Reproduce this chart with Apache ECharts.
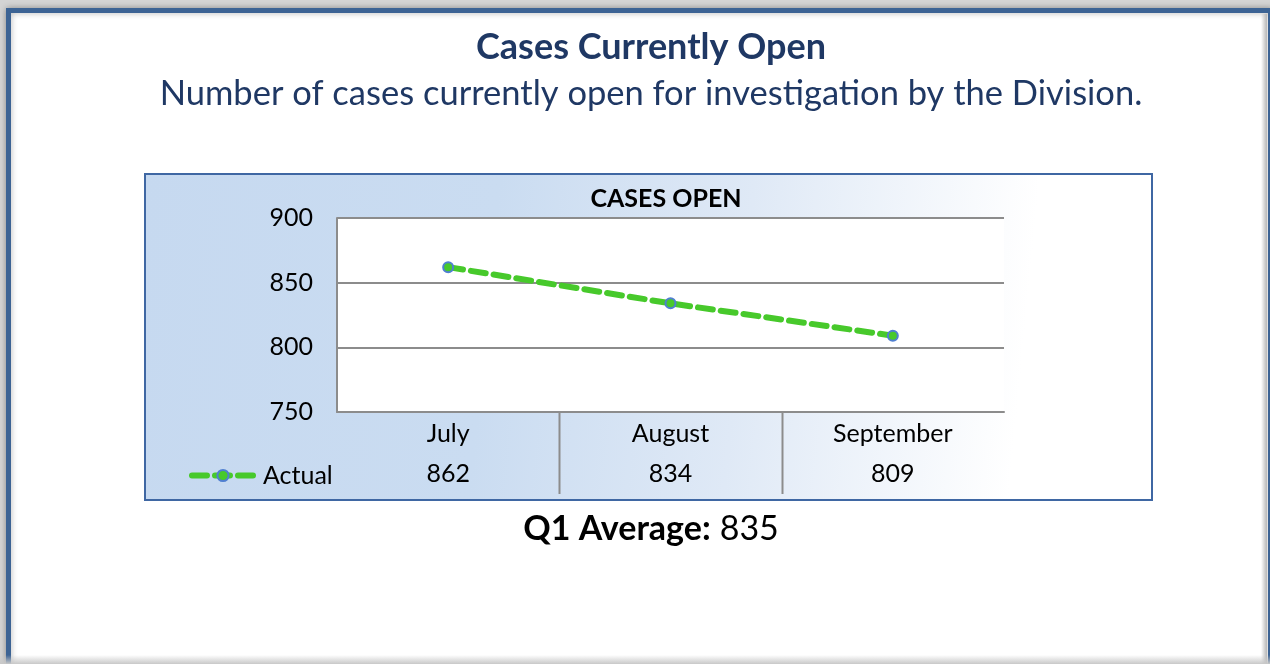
<!DOCTYPE html>
<html>
<head>
<meta charset="utf-8">
<script src="https://cdn.jsdelivr.net/npm/echarts@6/dist/echarts.min.js"></script>
<style>
html,body{margin:0;padding:0;background:#d4d4d4;}
#c{width:1270px;height:664px;}
</style>
</head>
<body>
<div id="c"></div>
<script>
const months = ['July', 'August', 'September'];
const actual = [862, 834, 809];
const yTicks = [750, 800, 850, 900];
const seriesName = 'Actual';
const pageTitle = 'Cases Currently Open';
const pageSubtitle = 'Number of cases currently open for investigation by the Division.';
const chartTitle = 'CASES OPEN';
const avgLabel = 'Q1 Average:';
const avgValue = 835;

const FONT = 'Lato, "Open Sans", sans-serif';
const GREEN = '#47c92b';
const chart = echarts.init(document.getElementById('c'));

const option = {
  animation: false,
  backgroundColor: '#d4d4d4',
  graphic: [
    { type: 'rect', z: -10, shape: { x: 8.5, y: 10.5, width: 1262, height: 720 },
      style: { fill: '#ffffff', stroke: '#3c6394', lineWidth: 5, shadowBlur: 6, shadowColor: 'rgba(0,0,0,0.3)' } },
    { type: 'rect', z: -9, shape: { x: 1261, y: 14, width: 6, height: 650 },
      style: { fill: new echarts.graphic.LinearGradient(0,0,1,0,[{offset:0,color:'rgba(190,190,190,0)'},{offset:1,color:'rgba(185,185,185,1)'}]) } },
    { type: 'rect', z: -9, shape: { x: 0, y: 655, width: 1270, height: 9 },
      style: { fill: new echarts.graphic.LinearGradient(0,0,0,1,[{offset:0,color:'rgba(200,200,200,0)'},{offset:1,color:'rgba(200,200,200,1)'}]) } },
    { type: 'rect', z: -8, shape: { x: 145, y: 174, width: 1007, height: 326 },
      style: { fill: new echarts.graphic.LinearGradient(0,0,1,0.3,[
        {offset:0,color:'#c6d9f0'},{offset:0.35,color:'#cadcf1'},{offset:0.6,color:'#dfe9f6'},{offset:0.88,color:'#ffffff'},{offset:1,color:'#ffffff'}]),
        stroke: '#3f67a3', lineWidth: 2 } },
    { type: 'text', x: 651, y: 47,
      style: { text: pageTitle, font: 'bold 36px ' + FONT, fill: '#1f3864', textAlign: 'center', textVerticalAlign: 'middle' } },
    { type: 'text', x: 651, y: 94,
      style: { text: pageSubtitle, font: '34.5px ' + FONT, fill: '#1f3864', textAlign: 'center', textVerticalAlign: 'middle' } },
    { type: 'text', x: 666, y: 199,
      style: { text: chartTitle, font: 'bold 25px ' + FONT, fill: '#000', textAlign: 'center', textVerticalAlign: 'middle' } },
    { type: 'text', x: 651, y: 529,
      style: { text: '{b|' + avgLabel + '}{n|' + avgValue + '}', textAlign: 'center', textVerticalAlign: 'middle',
        rich: { b: { font: 'bold 34px ' + FONT, fill: '#000' }, n: { font: '34px ' + FONT, fill: '#000', padding: [0, 0, 0, 9] } } } }
  ],
  legend: {
    left: 184, top: 458, itemWidth: 62, itemHeight: 14, itemGap: 0,
    lineStyle: { width: 6 },
    textStyle: { fontFamily: FONT, fontSize: 25, color: '#000', padding: [0, 0, 0, 4] },
    data: [seriesName]
  },
  grid: { left: 337, right: 266, top: 218, bottom: 252, show: true, backgroundColor: '#ffffff', borderWidth: 0 },
  xAxis: {
    type: 'category', data: months, boundaryGap: true,
    axisLine: { lineStyle: { color: '#8c8c8c', width: 2 } },
    axisTick: { show: false },
    axisLabel: {
      margin: 2,
      formatter: function (v, i) { return '{c|' + v + '}\n{v|' + actual[i] + '}'; },
      rich: {
        c: { fontFamily: FONT, fontSize: 25, color: '#000', lineHeight: 40 },
        v: { fontFamily: FONT, fontSize: 25, color: '#000', lineHeight: 40 }
      }
    }
  },
  yAxis: {
    type: 'value', min: yTicks[0], max: yTicks[yTicks.length - 1], interval: 50,
    axisLine: { show: true, lineStyle: { color: '#8c8c8c', width: 2 } },
    axisTick: { show: false },
    axisLabel: { margin: 24, fontFamily: FONT, fontSize: 25, color: '#000' },
    splitLine: { lineStyle: { color: '#8c8c8c', width: 2 } }
  },
  series: [{
    name: seriesName, type: 'line', data: actual,
    symbol: 'circle', symbolSize: 10,
    lineStyle: { color: GREEN, width: 6, type: [15, 8], cap: 'round' },
    itemStyle: { color: GREEN, borderColor: '#4f7fd0', borderWidth: 2 }
  }]
};
chart.setOption(option);

// table separators between categories, positioned via the axis scale
const seps = [];
for (let i = 0; i < months.length - 1; i++) {
  const a = chart.convertToPixel({ xAxisIndex: 0 }, months[i]);
  const b = chart.convertToPixel({ xAxisIndex: 0 }, months[i + 1]);
  const x = Math.round((a + b) / 2) + 0.5;
  const y0 = chart.convertToPixel({ yAxisIndex: 0 }, yTicks[0]);
  seps.push({ type: 'line', shape: { x1: x, y1: y0, x2: x, y2: y0 + 82 }, style: { stroke: '#8c8c8c', lineWidth: 2 } });
}
chart.setOption({ graphic: option.graphic.concat(seps) });
</script>
</body>
</html>
